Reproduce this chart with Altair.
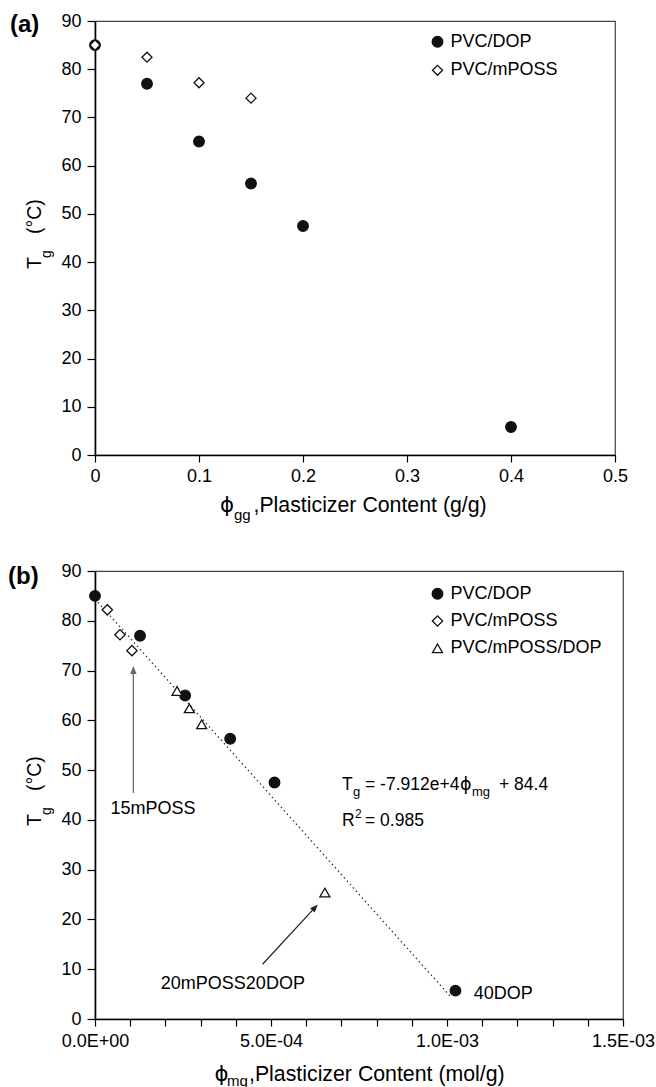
import math
import altair as alt
import pandas as pd

FONT = "Liberation Sans"
GFONT = "DejaVu Sans"

SERIES = ["PVC/DOP", "PVC/mPOSS", "PVC/mPOSS/DOP"]
SHAPES = ["circle", "diamond", "triangle-up"]
FILLS = ["#111111", "white", "white"]
SIZES = [112, 100, 125]

# ---------------- panel (a): Tg vs plasticizer content (g/g)
a_dop_x = [0.0, 0.05, 0.10, 0.15, 0.20, 0.40]
a_dop_y = [85.0, 77.0, 65.0, 56.3, 47.5, 5.8]
a_poss_x = [0.0, 0.05, 0.10, 0.15]
a_poss_y = [85.0, 82.5, 77.2, 74.0]

# ---------------- panel (b): Tg vs plasticizer content (mol/g)
b_dop_x = [0.0, 1.28e-4, 2.56e-4, 3.84e-4, 5.10e-4, 1.024e-3]
b_dop_y = [85.0, 77.0, 65.0, 56.3, 47.5, 5.7]
b_poss_x = [0.35e-4, 0.71e-4, 1.05e-4]
b_poss_y = [82.2, 77.2, 74.0]
b_mix_x = [2.33e-4, 2.68e-4, 3.03e-4, 6.53e-4]
b_mix_y = [65.9, 62.4, 59.2, 25.4]
fit_x = [0.0, 1.013e-3]
fit_y = [84.4, 4.25]

a_x_ticks = [0, 0.1, 0.2, 0.3, 0.4, 0.5]
y_ticks = [0, 10, 20, 30, 40, 50, 60, 70, 80, 90]
b_x_ticks = [0, 0.0001, 0.0002, 0.0003, 0.0004, 0.0005, 0.0006, 0.0007,
             0.0008, 0.0009, 0.001, 0.0011, 0.0012, 0.0013, 0.0014, 0.0015]
b_x_labels = ["0.0E+00", "5.0E-04", "1.0E-03", "1.5E-03"]

# annotation anchors (data coordinates)
arrow1 = {"x": 1.09e-4, "y": 45.4, "x2": 1.09e-4, "y2": 70.9}
arrow2 = {"x": 4.76e-4, "y": 11.0, "x2": 6.33e-4, "y2": 23.0}
lab_15 = (0.44e-4, 42.1, "15mPOSS")
lab_20 = (1.87e-4, 7.0, "20mPOSS20DOP")
lab_40 = (1.076e-3, 5.0, "40DOP")

W_A, H_A = 520, 434
W_B, H_B = 528, 448
TFS = 21.3  # axis title font size


def series_df(pairs):
    rows = []
    for name, xs, ys in pairs:
        for x, y in zip(xs, ys):
            rows.append({"series": name, "x": x, "y": y})
    return pd.DataFrame(rows)


df_a = series_df([(SERIES[0], a_dop_x, a_dop_y), (SERIES[1], a_poss_x, a_poss_y)])
df_b = series_df([(SERIES[0], b_dop_x, b_dop_y), (SERIES[1], b_poss_x, b_poss_y),
                  (SERIES[2], b_mix_x, b_mix_y)])

AY = alt.Axis(values=y_ticks, title=None, tickSize=8, labelPadding=6)
SY = alt.Scale(domain=[0, 90], nice=False, zero=False)
AX_A = alt.Axis(values=a_x_ticks, title=None, format="~g", tickSize=7, labelPadding=5,
                labelFlush=False)
SX_A = alt.Scale(domain=[0, 0.5], nice=False, zero=False)
idx = "round(datum.value*10000)"
lab_arr = "[" + ",".join("'%s'" % s for s in b_x_labels) + "]"
AX_B = alt.Axis(values=b_x_ticks, title=None, tickSize=7, labelPadding=6, labelFlush=False,
                labelExpr=f"{idx} % 5 == 0 ? {lab_arr}[{idx}/5] : ''")
SX_B = alt.Scale(domain=[0, 0.0015], nice=False, zero=False)


def point_layer(df, n, lx, ly, rowpad, sx, ax):
    dom = SERIES[:n]
    leg = alt.Legend(title=None, orient="none", legendX=lx, legendY=ly, labelFont=FONT,
                     labelFontSize=18, labelColor="black", rowPadding=rowpad, labelOffset=4,
                     padding=0, symbolStrokeWidth=1.3, symbolOpacity=1)
    return alt.Chart(df).mark_point(opacity=1, strokeWidth=1.3).encode(
        x=alt.X("x:Q", scale=sx, axis=ax),
        y=alt.Y("y:Q", scale=SY, axis=AY),
        shape=alt.Shape("series:N", scale=alt.Scale(domain=dom, range=SHAPES[:n]), legend=leg),
        fill=alt.Fill("series:N", scale=alt.Scale(domain=dom, range=FILLS[:n]), legend=leg),
        stroke=alt.Stroke("series:N", scale=alt.Scale(domain=dom, range=["#111111"] * n), legend=leg),
        size=alt.Size("series:N", scale=alt.Scale(domain=dom, range=SIZES[:n]), legend=leg),
    )


def ptext(text, x, y, size=18, angle=0, weight="normal", font=FONT):
    return alt.Chart(pd.DataFrame({"t": [text]})).mark_text(
        align="left", baseline="alphabetic", fontSize=size, font=font, fontWeight=weight,
        angle=angle, color="black").encode(x=alt.value(x), y=alt.value(y), text="t:N")


def dtext(x, y, text, sx, ax):
    return alt.Chart(pd.DataFrame({"x": [x], "y": [y], "t": [text]})).mark_text(
        align="left", baseline="middle", fontSize=18, font=FONT, color="black").encode(
        x=alt.X("x:Q", scale=sx, axis=ax), y=alt.Y("y:Q", scale=SY, axis=AY), text="t:N")


def arrow(a, color, sx, ax, w, h, xmax):
    pxx = w / xmax
    pxy = h / 90.0
    dxp = (a["x2"] - a["x"]) * pxx
    dyp = (a["y2"] - a["y"]) * pxy
    L = math.hypot(dxp, dyp)
    ux, uy = dxp / L, dyp / L
    back = 4.0
    cx = a["x2"] - back * ux / pxx
    cy = a["y2"] - back * uy / pxy
    ang = math.degrees(math.atan2(dxp, dyp))
    line = alt.Chart(pd.DataFrame([{"x": a["x"], "y": a["y"], "x2": cx, "y2": cy}])).mark_rule(
        color=color, strokeWidth=1.2).encode(
        x=alt.X("x:Q", scale=sx, axis=ax), y=alt.Y("y:Q", scale=SY, axis=AY), x2="x2:Q", y2="y2:Q")
    head = alt.Chart(pd.DataFrame([{"x": cx, "y": cy}])).mark_point(
        shape="M0,-1L-0.8,1L0.8,1Z", filled=True, size=64, opacity=1, color=color,
        angle=round(ang % 360, 2)).encode(
        x=alt.X("x:Q", scale=sx, axis=ax), y=alt.Y("y:Q", scale=SY, axis=AY))
    return [line, head]


# ---------------- panel (a)
a_layers = [
    point_layer(df_a, 2, 333.5, 11.7, 10.6, SX_A, AX_A),
    ptext("(a)", -85, 11, size=24, weight="bold"),
    ptext("T", -54, 248, size=19.5, angle=270),
    ptext("g", -44, 237, size=14, angle=270),
    ptext("(°C)", -54, 213, size=19.5, angle=270),
    ptext("ϕ", 125, 490.7, size=TFS, font=GFONT),
    ptext("gg", 139, 499, size=15),
    ptext(",Plasticizer Content (g/g)", 158.5, 490.7, size=TFS),
]
chart_a = alt.layer(*a_layers).properties(width=W_A, height=H_A)

# ---------------- panel (b)
df_fit = pd.DataFrame({"x": fit_x, "y": fit_y})
fit = alt.Chart(df_fit).mark_line(color="#333333", strokeWidth=1.3, strokeDash=[1.5, 3]).encode(
    x=alt.X("x:Q", scale=SX_B, axis=AX_B), y=alt.Y("y:Q", scale=SY, axis=AY))

b_layers = [fit]
b_layers += arrow(arrow1, "#666666", SX_B, AX_B, W_B, H_B, 0.0015)
b_layers += arrow(arrow2, "#222222", SX_B, AX_B, W_B, H_B, 0.0015)
b_layers += [
    point_layer(df_b, 3, 333.5, 13.7, 9.3, SX_B, AX_B),
    dtext(*lab_15, SX_B, AX_B),
    dtext(*lab_20, SX_B, AX_B),
    dtext(*lab_40, SX_B, AX_B),
    ptext("(b)", -87, 13, size=24, weight="bold"),
    ptext("T", -54, 255, size=19.5, angle=270),
    ptext("g", -44, 244, size=14, angle=270),
    ptext("(°C)", -54, 220, size=19.5, angle=270),
    ptext("ϕ", 119.4, 510, size=TFS, font=GFONT),
    ptext("mg", 132, 515, size=15),
    ptext(",Plasticizer Content (mol/g)", 154, 510, size=TFS),
    # fitted equation
    ptext("T", 247, 219, size=17.5),
    ptext("g", 258, 225, size=13),
    ptext("= -7.912e+4", 270, 219, size=17.5),
    ptext("ϕ", 365, 219, size=17.5, font=GFONT),
    ptext("mg", 377, 225, size=13),
    ptext("+ 84.4", 404, 219, size=17.5),
    ptext("R", 247, 255, size=17.5),
    ptext("2", 260, 247, size=12),
    ptext("= 0.985", 270, 255, size=17.5),
]
chart_b = alt.layer(*b_layers).properties(width=W_B, height=H_B)

chart = alt.vconcat(chart_a, chart_b, spacing=116, bounds="flush").resolve_scale(
    shape="independent", fill="independent", stroke="independent", size="independent"
).resolve_legend(
    shape="independent", fill="independent", stroke="independent", size="independent"
).properties(
    padding={"left": 7, "top": 11, "right": 0, "bottom": 0}
).configure_axis(
    domainColor="black", domainWidth=1.6, tickColor="black", tickWidth=1.2,
    labelFont=FONT, labelFontSize=18, labelColor="black", grid=False
).configure_view(stroke="#444444", strokeWidth=1.2)

chart.save("out.html", embed_options={"renderer": "svg", "actions": False})
